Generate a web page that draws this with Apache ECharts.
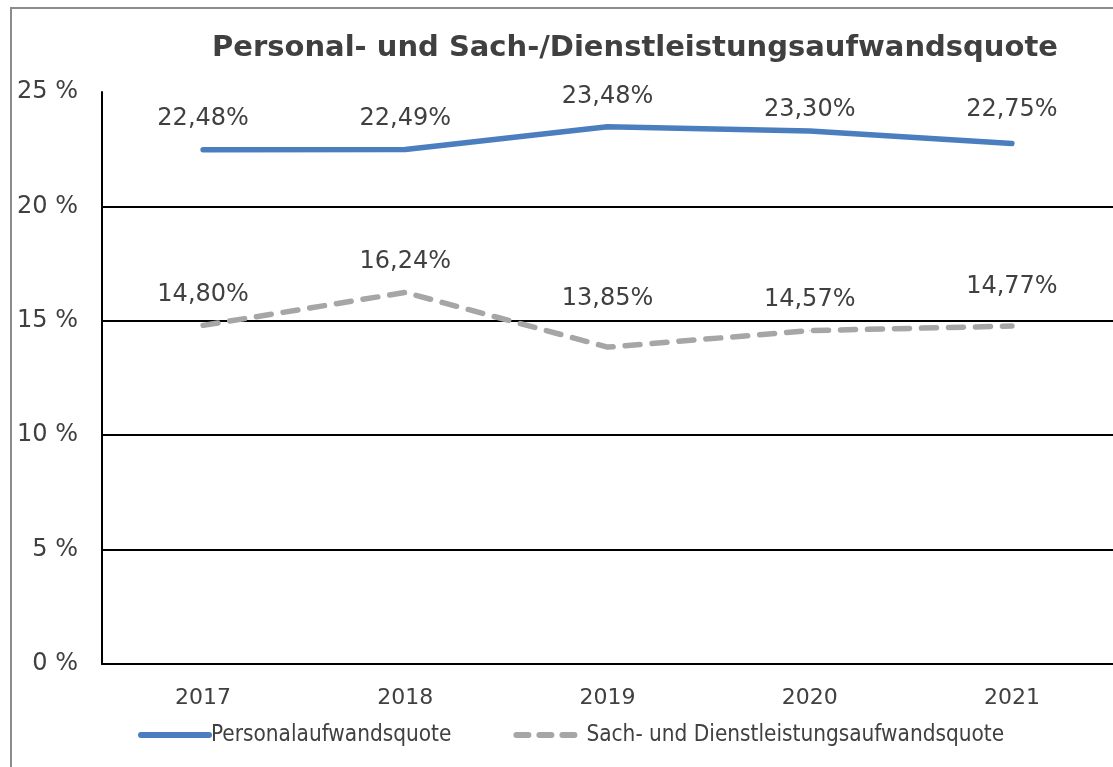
<!DOCTYPE html>
<html>
<head>
<meta charset="utf-8">
<script src="https://cdn.jsdelivr.net/npm/echarts@6/dist/echarts.min.js"></script>
<style>
  html, body { margin: 0; padding: 0; background: #fff; }
  #frame {
    position: absolute; left: 10px; top: 7px; width: 1120px; height: 780px;
    border: 2px solid #8c8c8c; box-sizing: border-box;
  }
  #chart { position: absolute; left: 0; top: 0; width: 1113px; height: 767px; }
</style>
</head>
<body>
<div id="frame"></div>
<div id="chart"></div>
<script>
// Jahre und Quoten (in %)
const years = ['2017', '2018', '2019', '2020', '2021']
const personalQuote = [22.48, 22.49, 23.48, 23.30, 22.75]
const sachQuote = [14.80, 16.24, 13.85, 14.57, 14.77]
const yTicks = [0, 5, 10, 15, 20, 25]

const textColor = '#404040'
const blue = '#4a7ebf'
const grey = '#a6a6a6'
const fmt = (v) => v.toFixed(2).replace('.', ',') + '%'

// kleine Verschiebungen der Beschriftungen wie im Original (px, pro Serie/Punkt)
const labelNudge = [
  [0, 0, 0, 9, -3],
  [0, 0, -18, 0, -9]
]

const chart = echarts.init(document.getElementById('chart'))

const dataLabel = {
  show: true,
  position: 'top',
  distance: 18,
  fontFamily: 'DejaVu Sans',
  fontSize: 24,
  color: textColor,
  formatter: (p) => fmt(p.value)
}

chart.setOption({
  animation: false,
  title: {
    text: 'Personal- und Sach-/Dienstleistungsaufwandsquote',
    left: 630,
    top: 29,
    textAlign: 'center',
    textStyle: {
      fontFamily: 'DejaVu Sans',
      fontWeight: 'bold',
      fontSize: 29,
      color: textColor
    }
  },
  legend: {
    left: 133,
    top: 719,
    itemWidth: 68,
    itemHeight: 22,
    itemGap: 62,
    itemStyle: { opacity: 0 },
    textStyle: {
      fontFamily: 'DejaVu Sans Condensed',
      fontSize: 22.4,
      color: textColor,
      padding: [0, 0, 0, -3]
    },
    data: [
      {
        name: 'Personalaufwandsquote',
        lineStyle: { color: blue, width: 6, cap: 'round' }
      },
      {
        name: 'Sach- und Dienstleistungsaufwandsquote',
        lineStyle: { color: grey, width: 6, type: [12, 11], cap: 'round' }
      }
    ]
  },
  grid: {
    left: 102,
    right: -9,
    top: 92,
    bottom: 103
  },
  xAxis: {
    type: 'category',
    data: years,
    boundaryGap: true,
    axisLine: { lineStyle: { color: '#000', width: 2 } },
    axisTick: { show: false },
    axisLabel: {
      fontFamily: 'DejaVu Sans',
      fontSize: 22,
      color: textColor,
      margin: 23
    }
  },
  yAxis: {
    type: 'value',
    min: yTicks[0],
    max: yTicks[yTicks.length - 1],
    interval: 5,
    axisLine: { show: true, lineStyle: { color: '#000', width: 2 } },
    axisTick: { show: false },
    splitLine: {
      show: true,
      lineStyle: { color: '#000', width: 2 },
      showMaxLine: false
    },
    axisLabel: {
      fontFamily: 'DejaVu Sans',
      fontSize: 24,
      color: textColor,
      margin: 24,
      formatter: (v) => v + ' %'
    }
  },
  series: [
    {
      name: 'Personalaufwandsquote',
      type: 'line',
      data: personalQuote,
      symbol: 'circle',
      symbolSize: 1,
      lineStyle: { color: blue, width: 5.5, cap: 'round' },
      itemStyle: { color: blue },
      label: dataLabel,
      labelLayout: (p) => ({ dy: labelNudge[0][p.dataIndex] })
    },
    {
      name: 'Sach- und Dienstleistungsaufwandsquote',
      type: 'line',
      data: sachQuote,
      symbol: 'circle',
      symbolSize: 1,
      lineStyle: { color: grey, width: 5.5, type: [15, 12], cap: 'round' },
      itemStyle: { color: grey },
      label: dataLabel,
      labelLayout: (p) => ({ dy: labelNudge[1][p.dataIndex] })
    }
  ]
})
</script>
</body>
</html>
